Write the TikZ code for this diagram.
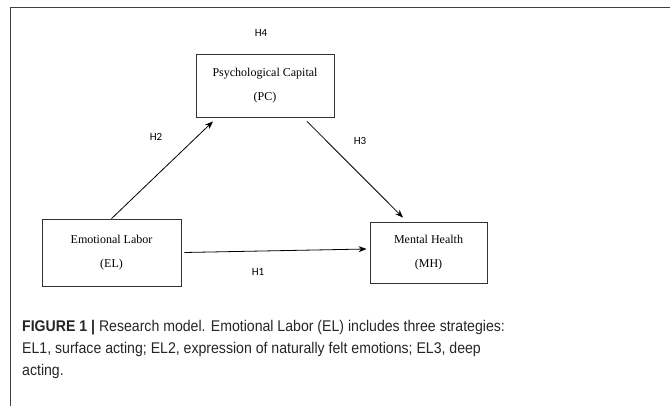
\documentclass[tikz,border=0pt]{standalone}
\usepackage{fontspec}
\setmainfont{Liberation Serif}
\newfontfamily\capfont[FakeStretch=0.91]{Liberation Sans}
\newfontfamily\hfont{Carlito}
\usetikzlibrary{arrows.meta}
\tikzset{
  box/.style={draw=black!80, line width=0.8pt, rectangle, align=center, inner sep=0pt,
    font=\fontsize{12}{24}\selectfont},
  link/.style={draw=black, line width=0.8pt, -{Stealth[length=8pt,width=6pt]}},
  hlabel/.style={font=\hfont\fontsize{11}{13}\selectfont, inner sep=0pt},
  capline/.style={anchor=base west, inner sep=0pt, font=\capfont\fontsize{15.5}{22.5}\selectfont, text=black!85}
}
\begin{document}
\begin{tikzpicture}[x=1pt,y=-1pt]
\useasboundingbox (0,0) rectangle (670,406);
\fill[white] (0,0) rectangle (670,406);
\draw[black!75, line width=1pt] (671,8) -- (10,8) -- (10,407);
\node[box, minimum width=138pt, minimum height=63pt] (pc) at (265,85.5) {Psychological Capital\\(PC)};
\node[box, minimum width=139pt, minimum height=67pt] (el) at (111.5,252.5) {Emotional Labor\\(EL)};
\node[box, minimum width=117pt, minimum height=61pt] (mh) at (428.5,252.5) {Mental Health\\(MH)};
\draw[link] (el.north) -- ([xshift=-52pt,yshift=-4pt]pc.south);
\draw[link] ([xshift=42pt,yshift=-4pt]pc.south) -- ([xshift=-25.5pt,yshift=4pt]mh.north);
\draw[link] ([xshift=3pt]el.east) -- ([xshift=-3pt,yshift=3.5pt]mh.west);
\node[hlabel] (h4) at (261,33) {H4};
\node[hlabel] (h2) at (156,137) {H2};
\node[hlabel] (h3) at (360,141) {H3};
\node[hlabel] (h1) at (258,272) {H1};
\node[capline] (c1) at (22,331) {\textbf{FIGURE 1 |} Research model. Emotional Labor (EL) includes three strategies:};
\node[capline] (c2) at (22,353.5) {EL1, surface acting; EL2, expression of naturally felt emotions; EL3, deep};
\node[capline] (c3) at (22,376) {acting.};
\end{tikzpicture}
\end{document}
